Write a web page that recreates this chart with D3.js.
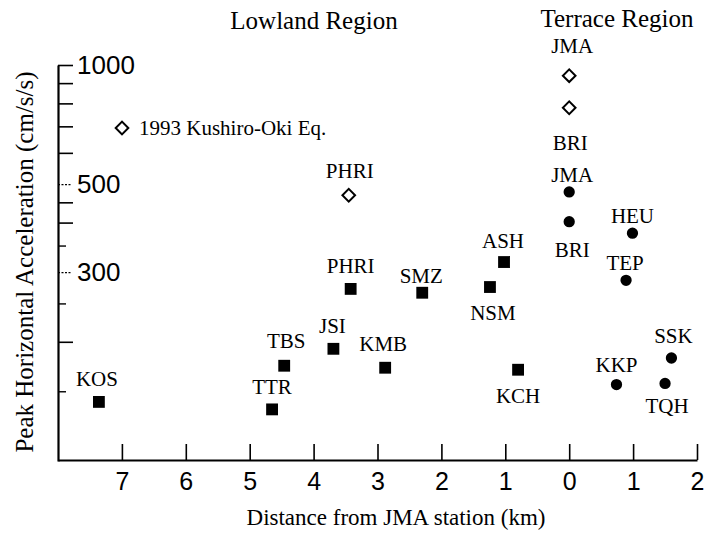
<!DOCTYPE html>
<html>
<head>
<meta charset="utf-8">
<script src="https://cdn.jsdelivr.net/npm/d3@7"></script>
<style>
  html, body { margin: 0; padding: 0; background: #fff; }
  svg { display: block; }
</style>
</head>
<body>
<svg id="chart" width="705" height="536"></svg>
<script>
// ---------------- DATA ----------------
// Lowland stations (filled squares)
const lowlandNames = ["KOS", "TTR", "TBS", "JSI", "PHRI", "KMB", "SMZ", "NSM", "ASH", "KCH"];
const lowlandDist  = [-7.36, -4.65, -4.46, -3.69, -3.42, -2.88, -2.30, -1.24, -1.02, -0.80];
const lowlandPGA   = [141, 135, 174, 192, 272, 172, 266, 275, 318, 170];

// Terrace stations (filled circles)
const terraceNames = ["JMA", "BRI", "KKP", "TEP", "HEU", "TQH", "SSK"];
const terraceDist  = [0.0, 0.0, 0.74, 0.89, 0.99, 1.50, 1.60];
const terracePGA   = [478, 402, 156, 286, 376, 157, 182];

// 1993 Kushiro-Oki earthquake (open diamonds)
const kushiroNames = ["PHRI", "JMA", "BRI"];
const kushiroDist  = [-3.45, 0.0, 0.0];
const kushiroPGA   = [469, 940, 780];

// Axis ticks / labels
const xTickValues     = [-7, -6, -5, -4, -3, -2, -1, 0, 1, 2];
const yLabelValues    = [1000, 500, 300];
const yLongTickValues = [1000, 900, 800, 700, 600, 450, 400, 200];
const yShortTickValues = [500, 350, 300, 250, 150];

const regionTitles = ["Lowland Region", "Terrace Region"];
const legendText = "1993 Kushiro-Oki Eq.";
const xTitle = "Distance from JMA station (km)";
const yTitle = "Peak Horizontal Acceleration (cm/s/s)";

// ---------------- LAYOUT ----------------
const serif = "'Liberation Serif', 'Times New Roman', serif";
const sans = "'Liberation Sans', Arial, sans-serif";

// label placement (dx, baseline dy) relative to each marker
const lowlandLabelOff = [[-2,-16],[0,-15],[2,-18],[-1,-16],[0,-16],[-2,-17],[-1,-10],[3,33],[-1,-14],[0,33]];
const terraceLabelOff = [[3,-10],[3,35],[0,-13],[-1,-10],[0,-10],[2,30],[2,-15]];
const kushiroLabelOff = [[1,-17],[3,-23],[1,42]];

const svg = d3.select("#chart");
svg.append("rect").attr("width", 705).attr("height", 536).attr("fill", "#fff");

const x = d3.scaleLinear().domain([-8, 2]).range([58, 697]);
const y = d3.scaleLog().domain([100, 1000]).range([461, 65]);

// Y axis: long ticks (with axis line)
const yAxisG = svg.append("g").attr("transform", "translate(58,0)")
  .call(d3.axisRight(y).tickValues(yLongTickValues).tickSizeInner(15).tickSizeOuter(0).tickFormat(""));
yAxisG.select(".domain").attr("stroke", "#000").attr("stroke-width", 2.2);
yAxisG.selectAll(".tick line").attr("stroke", "#000").attr("stroke-width", 1.6);

// Y axis: short ticks
const yShortG = svg.append("g").attr("transform", "translate(58,0)")
  .call(d3.axisRight(y).tickValues(yShortTickValues).tickSize(8).tickFormat(""));
yShortG.select(".domain").remove();
yShortG.selectAll(".tick line").attr("stroke", "#000").attr("stroke-width", 1.4);
yShortG.selectAll(".tick").filter(d => yLabelValues.includes(d))
  .select("line").attr("x2", 14).attr("stroke-dasharray", "2,1.5").attr("stroke-width", 1.2);

// Y axis labels
const yLabG = svg.append("g").attr("transform", "translate(58,0)")
  .call(d3.axisRight(y).tickValues(yLabelValues).tickSize(0).tickPadding(19).tickFormat(d3.format("d")));
yLabG.select(".domain").remove();
yLabG.selectAll(".tick line").remove();
yLabG.selectAll(".tick text").attr("font-family", sans).attr("font-size", 26).attr("fill", "#000");

// X axis
const xAxisG = svg.append("g").attr("transform", "translate(0,460)")
  .call(d3.axisBottom(x).tickValues(xTickValues).tickSizeInner(-16).tickSizeOuter(0).tickPadding(12)
        .tickFormat(d => Math.abs(d)));
xAxisG.select(".domain").attr("stroke", "#000").attr("stroke-width", 2.2);
xAxisG.selectAll(".tick line").attr("stroke", "#000").attr("stroke-width", 1.6);
xAxisG.selectAll(".tick text").attr("font-family", sans).attr("font-size", 25).attr("fill", "#000");

// Axis titles
svg.append("text").attr("x", 396).attr("y", 525).attr("text-anchor", "middle")
  .attr("font-family", serif).attr("font-size", 23).attr("fill", "#000").text(xTitle);
svg.append("text").attr("transform", "translate(33,262) rotate(-90)").attr("text-anchor", "middle")
  .attr("font-family", serif).attr("font-size", 25).attr("fill", "#000").text(yTitle);

// Region titles
svg.append("text").attr("x", 314).attr("y", 29).attr("text-anchor", "middle")
  .attr("font-family", serif).attr("font-size", 25).attr("fill", "#000").text(regionTitles[0]);
svg.append("text").attr("x", 617).attr("y", 27).attr("text-anchor", "middle")
  .attr("font-family", serif).attr("font-size", 25).attr("fill", "#000").text(regionTitles[1]);

// Symbols
const squareSym = d3.symbol().type(d3.symbolSquare).size(140);
const circleSym = d3.symbol().type(d3.symbolCircle).size(100);
const diamondSym = d3.symbol().type(d3.symbolSquare).size(80);

function drawSeries(names, dist, pga, offs, kind) {
  const data = names.map((n, i) => ({ name: n, d: dist[i], v: pga[i], off: offs[i] }));
  const g = svg.append("g");
  g.selectAll("path").data(data).join("path")
    .attr("d", kind === "square" ? squareSym : kind === "circle" ? circleSym : diamondSym)
    .attr("transform", p => `translate(${x(p.d)},${y(p.v)})` + (kind === "diamond" ? " rotate(45)" : ""))
    .attr("fill", kind === "diamond" ? "#fff" : "#000")
    .attr("stroke", "#000")
    .attr("stroke-width", kind === "diamond" ? 2 : 0);
  g.selectAll("text").data(data).join("text")
    .attr("x", p => x(p.d) + p.off[0])
    .attr("y", p => y(p.v) + p.off[1])
    .attr("text-anchor", "middle")
    .attr("font-family", serif).attr("font-size", 21).attr("fill", "#000")
    .text(p => p.name);
}
drawSeries(lowlandNames, lowlandDist, lowlandPGA, lowlandLabelOff, "square");
drawSeries(terraceNames, terraceDist, terracePGA, terraceLabelOff, "circle");
drawSeries(kushiroNames, kushiroDist, kushiroPGA, kushiroLabelOff, "diamond");

// Legend
svg.append("path").attr("d", diamondSym)
  .attr("transform", "translate(122,128) rotate(45)")
  .attr("fill", "#fff").attr("stroke", "#000").attr("stroke-width", 2);
svg.append("text").attr("x", 139).attr("y", 135)
  .attr("font-family", serif).attr("font-size", 21).attr("fill", "#000").text(legendText);
</script>
</body>
</html>
